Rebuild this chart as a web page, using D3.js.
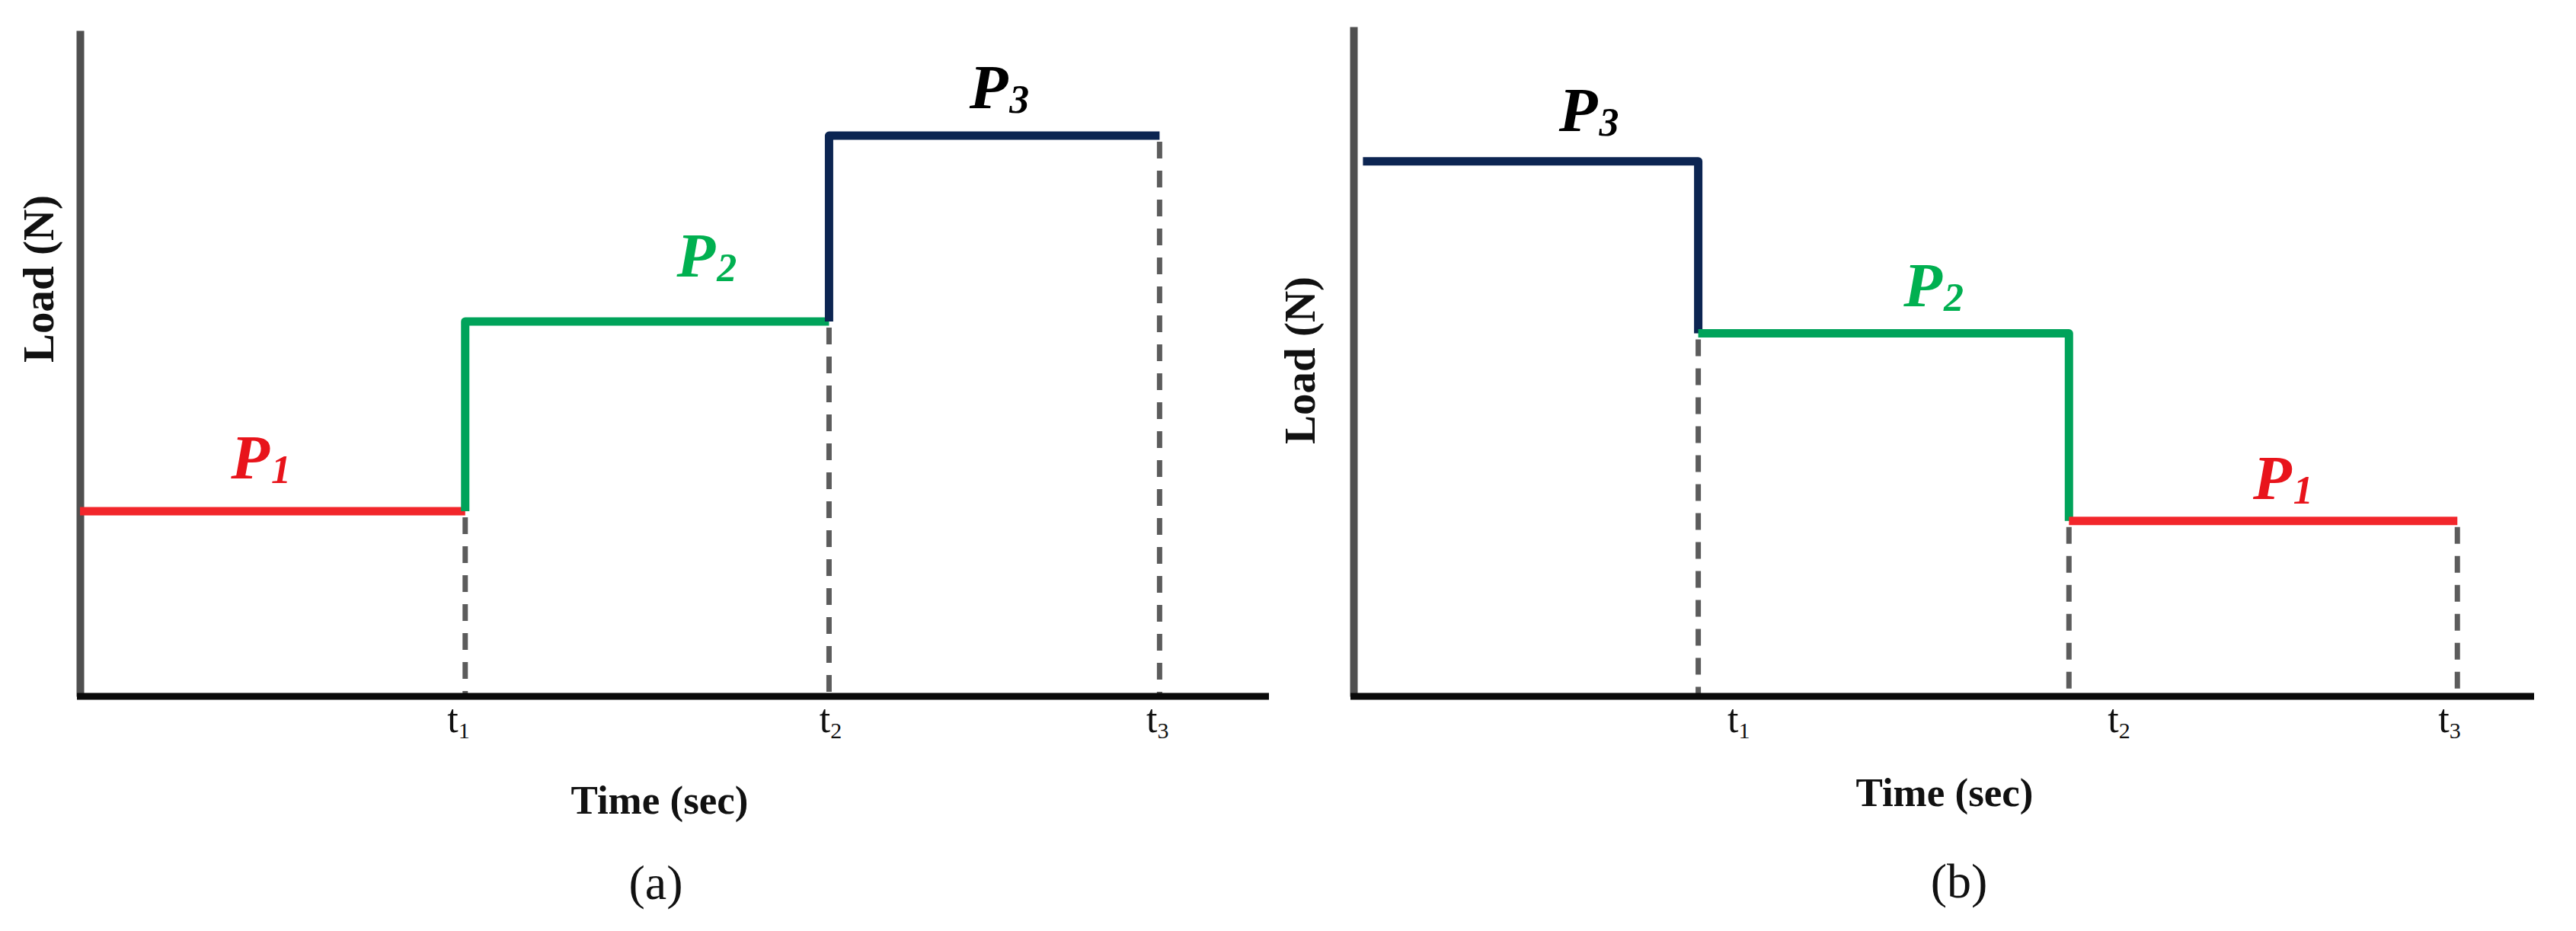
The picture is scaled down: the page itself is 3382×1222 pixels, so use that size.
<!DOCTYPE html>
<html>
<head>
<meta charset="utf-8">
<script src="https://cdn.jsdelivr.net/npm/d3@7"></script>
<style>
  html, body { margin: 0; padding: 0; background: #ffffff; }
  svg { display: block; }
</style>
</head>
<body>
<svg id="chart" width="3382" height="1222"></svg>
<script>
// ---------------- DATA ----------------
// Panel (a): increasing load sequence
const seriesA = ["P1", "P2", "P3"];
const timesA = [0, 32.4, 63.0, 90.8];          // step boundaries (time units)
const loadsA = [27.8, 56.3, 84.2];             // load level of each step
const tickTimesA = [31.8, 63.1, 90.6];
const labelTimesA = [12.7, 50.2, 74.8];
const labelLoadsA = [32.7, 63.0, 88.3];

// Panel (b): decreasing load sequence
const seriesB = ["P3", "P2", "P1"];
const timesB = [0.8, 29.2, 60.6, 93.5];
const loadsB = [79.9, 54.2, 26.2];
const tickTimesB = [32.6, 64.8, 92.8];
const labelTimesB = [17.4, 46.6, 76.2];
const labelLoadsB = [84.4, 58.2, 29.5];

const tickNames = ["t1", "t2", "t3"];
const xTitle = "Time (sec)";
const yTitle = "Load (N)";
const panelTags = ["(a)", "(b)"];

// ---------------- STYLE ----------------
const lineColor = { P1: "#f2262b", P2: "#00a35a", P3: "#0c2552" };
const labelColor = { P1: "#e8141b", P2: "#00b050", P3: "#000000" };
const serif = "'Liberation Serif', 'Times New Roman', serif";

const panels = [
  { series: seriesA, times: timesA, loads: loadsA, ticks: tickTimesA,
    lt: labelTimesA, ll: labelLoadsA, tag: panelTags[0],
    xr: [105, 1666], yr: [914, 40],
    yTitlePos: [70, 366], xTitlePos: [866, 1068], tagPos: [861, 1180] },
  { series: seriesB, times: timesB, loads: loadsB, ticks: tickTimesB,
    lt: labelTimesB, ll: labelLoadsB, tag: panelTags[1],
    xr: [1777, 3327], yr: [914, 35],
    yTitlePos: [1726, 473], xTitlePos: [2553, 1058], tagPos: [2572, 1178] }
];

const svg = d3.select("#chart");
svg.append("rect").attr("width", 3382).attr("height", 1222).attr("fill", "#fff");

panels.forEach(p => {
  const x = d3.scaleLinear().domain([0, 100]).range(p.xr);
  const y = d3.scaleLinear().domain([0, 100]).range(p.yr);
  const g = svg.append("g");
  const line = d3.line().x(d => x(d[0])).y(d => y(d[1]));
  const n = p.loads.length;

  // dashed drop lines at each step boundary
  for (let i = 1; i <= n; i++) {
    const lo = i < n ? Math.min(p.loads[i - 1], p.loads[i]) : p.loads[i - 1];
    g.append("path")
      .attr("d", line([[p.times[i], lo], [p.times[i], 0]]))
      .attr("stroke", "#5c5c5c").attr("stroke-width", 7)
      .attr("stroke-dasharray", "22,16").attr("stroke-dashoffset", -8)
      .attr("fill", "none");
  }

  // y axis (gray, no ticks)
  const yAxis = g.append("g").attr("transform", `translate(${p.xr[0]},0)`)
    .call(d3.axisLeft(y).tickValues([]).tickSizeOuter(0));
  yAxis.select(".domain").attr("stroke", "#505050").attr("stroke-width", 10);

  // x axis (black)
  const xAxis = g.append("g").attr("transform", `translate(0,${p.yr[0]})`)
    .call(d3.axisBottom(x).tickValues(p.ticks).tickSize(0).tickSizeOuter(0).tickFormat(""));
  xAxis.select(".domain").attr("stroke", "#0a0a0a").attr("stroke-width", 9)
    .attr("d", `M${p.xr[0] - 4},0H${p.xr[1]}`);
  xAxis.selectAll(".tick").each(function (d, i) {
    const t = d3.select(this).append("text")
      .attr("y", 47).attr("text-anchor", "middle")
      .attr("fill", "#111").attr("font-family", serif).attr("font-size", 52)
      .style("font-weight", "normal");
    t.append("tspan").text(tickNames[i].charAt(0));
    t.append("tspan").attr("font-size", 30).attr("dy", 8).text(tickNames[i].slice(1));
  });

  // step segments
  for (let i = 0; i < n; i++) {
    const pts = [];
    if (i > 0 && p.loads[i - 1] < p.loads[i]) pts.push([p.times[i], p.loads[i - 1]]);
    pts.push([p.times[i], p.loads[i]]);
    pts.push([p.times[i + 1], p.loads[i]]);
    if (i < n - 1 && p.loads[i + 1] < p.loads[i]) pts.push([p.times[i + 1], p.loads[i + 1]]);
    g.append("path").attr("d", line(pts))
      .attr("stroke", lineColor[p.series[i]]).attr("stroke-width", 11)
      .attr("stroke-linejoin", "round").attr("fill", "none");
  }

  // segment labels P1, P2, P3
  p.series.forEach((s, i) => {
    const t = g.append("text")
      .attr("x", x(p.lt[i])).attr("y", y(p.ll[i]))
      .attr("fill", labelColor[s]).attr("font-family", serif)
      .attr("font-weight", "bold").attr("font-style", "italic")
      .attr("font-size", 83);
    t.append("tspan").text(s.charAt(0));
    t.append("tspan").attr("font-size", 52).attr("dy", 6).attr("dx", 2).text(s.slice(1));
  });

  // axis titles
  g.append("text")
    .attr("transform", `translate(${p.yTitlePos[0]},${p.yTitlePos[1]}) rotate(-90)`)
    .attr("text-anchor", "middle").attr("font-family", serif)
    .attr("font-weight", "bold").attr("font-size", 57).attr("fill", "#111")
    .text(yTitle);
  g.append("text")
    .attr("x", p.xTitlePos[0]).attr("y", p.xTitlePos[1])
    .attr("text-anchor", "middle").attr("font-family", serif)
    .attr("font-weight", "bold").attr("font-size", 53).attr("fill", "#111")
    .text(xTitle);
  g.append("text")
    .attr("x", p.tagPos[0]).attr("y", p.tagPos[1])
    .attr("text-anchor", "middle").attr("font-family", serif)
    .attr("font-size", 64).attr("fill", "#111")
    .text(p.tag);
});
</script>
</body>
</html>
